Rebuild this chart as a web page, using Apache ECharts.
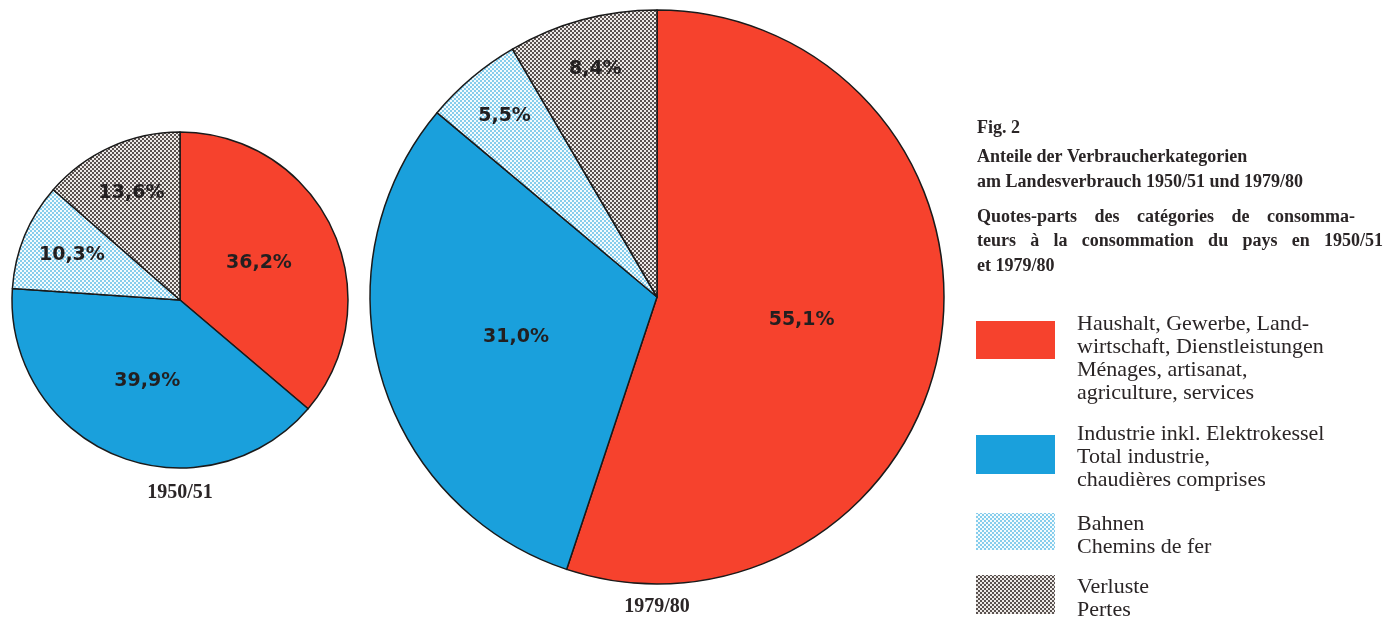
<!DOCTYPE html>
<html><head><meta charset="utf-8">
<script src="https://cdn.jsdelivr.net/npm/echarts@6/dist/echarts.min.js"></script>
<style>html,body{margin:0;padding:0;background:#fff}#c{width:1399px;height:617px}</style>
</head><body><div id="c"></div>
<script>
// ---- data ----
const categories = ['Haushalt, Gewerbe, Landwirtschaft, Dienstleistungen', 'Industrie inkl. Elektrokessel', 'Bahnen', 'Verluste'];
const values1950 = [36.2, 39.9, 10.3, 13.6];
const values1979 = [55.1, 31.0, 5.5, 8.4];
const pieTitles = ['1950/51', '1979/80'];
const figTitle = ['Fig. 2', 'Anteile der Verbraucherkategorien', 'am Landesverbrauch 1950/51 und 1979/80'];
const figTitleFr = ['Quotes-parts des catégories de consomma-', 'teurs à la consommation du pays en 1950/51', 'et 1979/80'];
const legendLines = [
  ['Haushalt, Gewerbe, Land-', 'wirtschaft, Dienstleistungen', 'Ménages, artisanat,', 'agriculture, services'],
  ['Industrie inkl. Elektrokessel', 'Total industrie,', 'chaudières comprises'],
  ['Bahnen', 'Chemins de fer'],
  ['Verluste', 'Pertes']
];

// ---- styles ----
function dotPattern(bg, dot) {
  const c = document.createElement('canvas');
  c.width = 4; c.height = 4;
  const g = c.getContext('2d');
  g.fillStyle = bg; g.fillRect(0, 0, 4, 4);
  g.fillStyle = dot;
  g.fillRect(0, 0, 2, 2); g.fillRect(2, 2, 2, 2);
  return c;
}
const lightBluePat = dotPattern('#f4fbfd', '#86cdec');
const greyPat = dotPattern('#eeeae8', '#5a5250');
const fills = ['#f6422d', '#1aa0dc', {image: lightBluePat, repeat: 'repeat'}, {image: greyPat, repeat: 'repeat'}];

const fmt = v => v.toFixed(1).replace('.', ',') + '%';
const labelStyle = {fontFamily: 'DejaVu Sans', fontWeight: 'bold', fontSize: 19, color: '#231f20'};

function mainSeries(vals, center, r) {
  return {
    type: 'pie', center: center, radius: [0, r], startAngle: 90, clockwise: true,
    silent: true, animation: false,
    itemStyle: {borderColor: '#1a1a1a', borderWidth: 1.5},
    label: Object.assign({position: 'inside', formatter: p => fmt(p.value)}, labelStyle),
    labelLine: {show: false},
    data: vals.map((v, i) => ({value: v, name: categories[i], itemStyle: {color: fills[i]},
      label: {show: i < 2}}))
  };
}
function outerLabelSeries(vals, center, r0, r) {
  return {
    type: 'pie', center: center, radius: [r0, r], startAngle: 90, clockwise: true,
    silent: true, animation: false,
    itemStyle: {color: 'rgba(0,0,0,0)', borderWidth: 0},
    label: Object.assign({position: 'inside', formatter: p => fmt(p.value)}, labelStyle),
    labelLine: {show: false},
    data: vals.map((v, i) => ({value: v, name: categories[i], label: {show: i >= 2}}))
  };
}

const serif = 'Liberation Serif';
const ink = '#2a2526';
const graphics = [];
const smallC = [180, 300], bigC = [657, 297];
graphics.push({type: 'text', x: smallC[0], y: 493, style: {text: pieTitles[0], font: 'bold 20px ' + serif, fill: ink, align: 'center', verticalAlign: 'middle'}});
graphics.push({type: 'text', x: bigC[0], y: 607, style: {text: pieTitles[1], font: 'bold 20px ' + serif, fill: ink, align: 'center', verticalAlign: 'middle'}});

// measuring for justified lines
const mctx = document.createElement('canvas').getContext('2d');
function justified(text, font, x0, x1, y) {
  mctx.font = font;
  const words = text.split(' ');
  const total = words.reduce((s, w) => s + mctx.measureText(w).width, 0);
  const gap = (x1 - x0 - total) / (words.length - 1);
  let x = x0;
  words.forEach(w => {
    graphics.push({type: 'text', x: x, y: y, style: {text: w, font: font, fill: ink, verticalAlign: 'middle'}});
    x += mctx.measureText(w).width + gap;
  });
}

// title block
const titleFont = 'bold 18px ' + serif;
const titleY = [128, 157, 182];
figTitle.forEach((t, i) => graphics.push({type: 'text', x: 977, y: titleY[i], style: {text: t, font: titleFont, fill: ink, verticalAlign: 'middle'}}));
const titleFrY = [217, 241, 266];
const titleFrRight = [1355, 1383, null];
figTitleFr.forEach((t, i) => {
  if (titleFrRight[i]) justified(t, titleFont, 977, titleFrRight[i], titleFrY[i]);
  else graphics.push({type: 'text', x: 977, y: titleFrY[i], style: {text: t, font: titleFont, fill: ink, verticalAlign: 'middle'}});
});

// legend
const swatchY = [[321, 359], [435, 474], [513, 550], [575, 614]];
const textY0 = [324, 434, 524, 587];
legendLines.forEach((lines, i) => {
  graphics.push({type: 'rect', shape: {x: 976, y: swatchY[i][0], width: 79, height: swatchY[i][1] - swatchY[i][0]}, style: {fill: fills[i]}});
  lines.forEach((t, j) => graphics.push({type: 'text', x: 1077, y: textY0[i] + j * 23, style: {text: t, font: '22px ' + serif, fill: ink, verticalAlign: 'middle'}}));
});

const chart = echarts.init(document.getElementById('c'), null, {renderer: 'canvas'});
chart.setOption({
  animation: false,
  backgroundColor: '#ffffff',
  series: [
    mainSeries(values1950, smallC, 168),
    outerLabelSeries(values1950, smallC, 60, 168),
    mainSeries(values1979, bigC, 287),
    outerLabelSeries(values1979, bigC, 180, 287)
  ],
  graphic: graphics
});
</script></body></html>
